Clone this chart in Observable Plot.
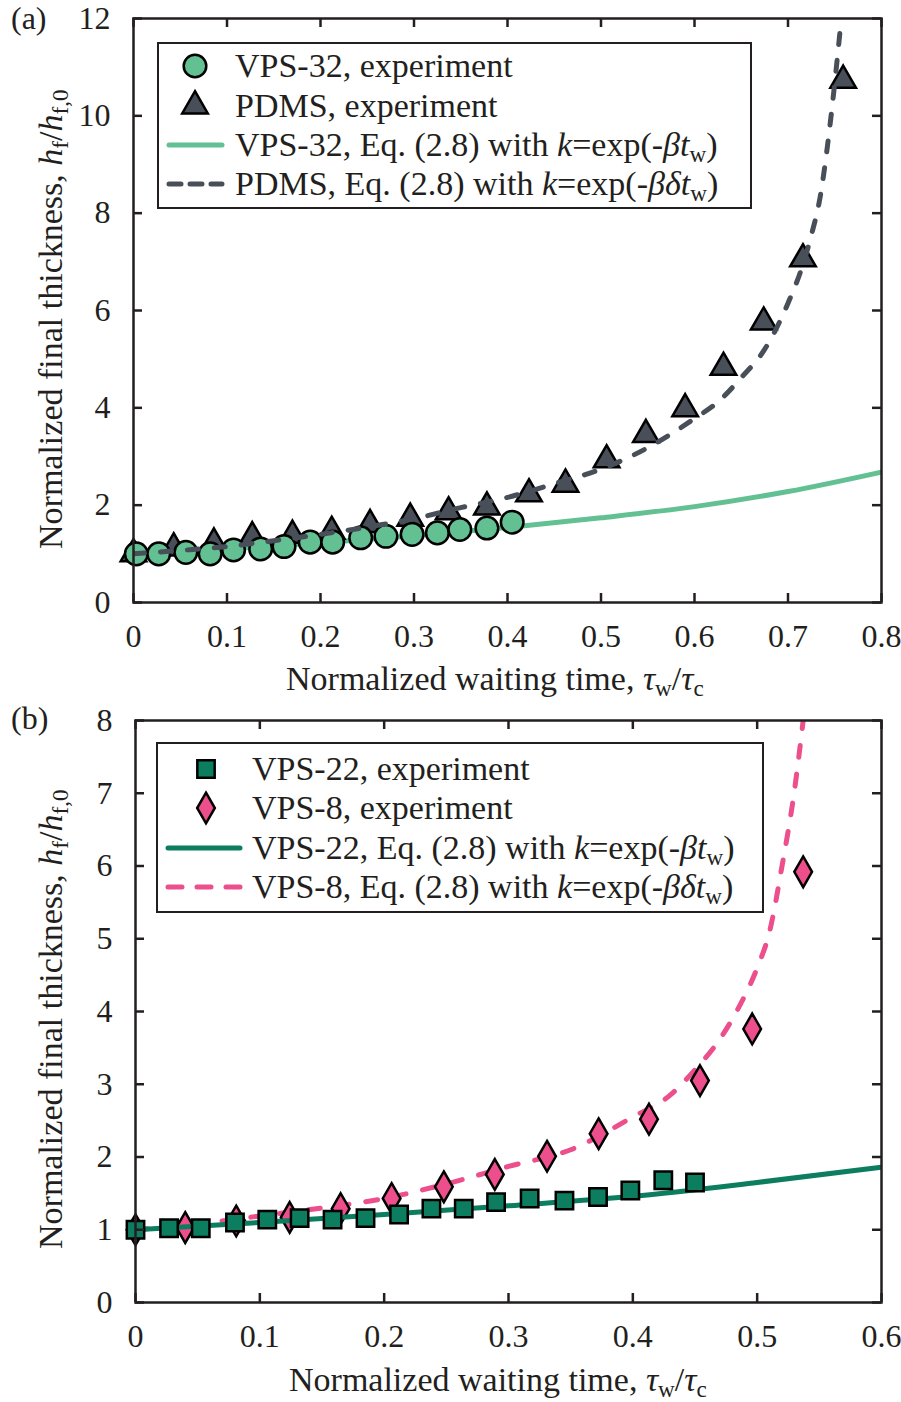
<!DOCTYPE html>
<html>
<head>
<meta charset="utf-8">
<script src="https://cdn.jsdelivr.net/npm/d3@7"></script>
<script src="https://cdn.jsdelivr.net/npm/@observablehq/plot@0.6"></script>
<style>
  html, body { margin: 0; padding: 0; background: #fff; }
  #root { position: relative; width: 901px; height: 1402px; overflow: hidden; background: #fff;
          font-family: "Liberation Serif", "Times New Roman", serif; color: #231f20; }
  .abs { position: absolute; white-space: nowrap; }
  .lbl { font-size: 34px; line-height: 34px; }
  .sub { font-size: 0.68em; position: relative; top: 0.28em; font-style: normal; }
  .legend { position: absolute; box-sizing: border-box; border: 2.5px solid #231f20; background: #fff; }
  .row { position: absolute; font-size: 34px; line-height: 40px; height: 40px; white-space: nowrap; }
</style>
</head>
<body>
<div id="root"></div>
<script>
// ---------------- data: panel (a) ----------------
const xTicksA = [0, 0.1, 0.2, 0.3, 0.4, 0.5, 0.6, 0.7, 0.8];
const yTicksA = [0, 2, 4, 6, 8, 10, 12];

const vps32X = [0.003, 0.027, 0.056, 0.082, 0.107, 0.136, 0.161, 0.189, 0.213, 0.243, 0.270, 0.298, 0.325, 0.349, 0.378, 0.405];
const vps32Y = [1.00, 1.00, 1.03, 1.00, 1.08, 1.10, 1.15, 1.24, 1.24, 1.33, 1.36, 1.40, 1.43, 1.50, 1.53, 1.65];

const pdmsX = [0, 0.043, 0.086, 0.127, 0.170, 0.212, 0.253, 0.296, 0.337, 0.378, 0.423, 0.462, 0.506, 0.548, 0.590, 0.631, 0.674, 0.716, 0.759];
const pdmsY = [1.00, 1.12, 1.22, 1.35, 1.38, 1.46, 1.60, 1.73, 1.86, 1.96, 2.23, 2.43, 2.93, 3.45, 3.98, 4.83, 5.76, 7.06, 10.73];

const vps32FitX = [0, 0.1, 0.2, 0.3, 0.4, 0.5, 0.6, 0.7, 0.8];
const vps32FitY = [1.00, 1.10, 1.23, 1.37, 1.54, 1.74, 1.97, 2.28, 2.68];

const pdmsFitX = [0, 0.05, 0.1, 0.15, 0.2, 0.25, 0.3, 0.35, 0.4, 0.45, 0.5, 0.55, 0.6, 0.625, 0.65, 0.675, 0.7, 0.715, 0.725, 0.735, 0.742, 0.749, 0.757];
const pdmsFitY = [1.00, 1.07, 1.15, 1.27, 1.40, 1.55, 1.72, 1.95, 2.16, 2.44, 2.74, 3.18, 3.78, 4.12, 4.62, 5.20, 6.15, 6.89, 7.55, 8.40, 9.35, 10.5, 12.0];

// ---------------- data: panel (b) ----------------
const xTicksB = [0, 0.1, 0.2, 0.3, 0.4, 0.5, 0.6];
const yTicksB = [0, 1, 2, 3, 4, 5, 6, 7, 8];

const vps22X = [0, 0.027, 0.0525, 0.080, 0.106, 0.132, 0.1585, 0.185, 0.212, 0.238, 0.264, 0.290, 0.317, 0.345, 0.372, 0.398, 0.4245, 0.450];
const vps22Y = [1.00, 1.02, 1.02, 1.10, 1.14, 1.16, 1.14, 1.16, 1.21, 1.29, 1.29, 1.38, 1.43, 1.40, 1.45, 1.54, 1.68, 1.65];

const vps8X = [0, 0.040, 0.081, 0.124, 0.165, 0.206, 0.248, 0.289, 0.331, 0.3725, 0.413, 0.454, 0.496, 0.537];
const vps8Y = [1.00, 1.03, 1.12, 1.17, 1.29, 1.43, 1.59, 1.76, 2.01, 2.32, 2.52, 3.05, 3.76, 5.92];

const vps22FitX = [0, 0.1, 0.2, 0.3, 0.4, 0.5, 0.6];
const vps22FitY = [1.00, 1.10, 1.21, 1.33, 1.46, 1.65, 1.86];

const vps8FitX = [0, 0.05, 0.1, 0.15, 0.2, 0.25, 0.3, 0.35, 0.4, 0.43, 0.45, 0.47, 0.485, 0.5, 0.51, 0.52, 0.53, 0.537];
const vps8FitY = [1.00, 1.08, 1.19, 1.30, 1.43, 1.63, 1.87, 2.10, 2.55, 2.85, 3.20, 3.62, 4.05, 4.60, 5.10, 6.00, 7.04, 8.00];

// ---------------- styles ----------------
const ink = "#231f20";
const lightGreen = "#62c093";
const slate = "#484f59";
const darkGreen = "#0d7d60";
const pink = "#ec4f8c";
const FONT = '"Liberation Serif", "Times New Roman", serif';
const dashA = "11,16";
const dashB = "12,17";

const zip = (xs, ys) => xs.map((x, i) => ({x, y: ys[i]}));

function innerTicks(xt, yt, h, w) {
  const tk = 9, sw = 2.5;
  return [
    Plot.tickX(xt, {x: d => d, insetTop: h - tk, stroke: ink, strokeWidth: sw}),
    Plot.tickX(xt, {x: d => d, insetBottom: h - tk, stroke: ink, strokeWidth: sw}),
    Plot.tickY(yt, {y: d => d, insetRight: w - tk, stroke: ink, strokeWidth: sw}),
    Plot.tickY(yt, {y: d => d, insetLeft: w - tk, stroke: ink, strokeWidth: sw}),
    Plot.frame({stroke: ink, strokeWidth: 2.5})
  ];
}

const root = document.getElementById("root");

// ---------------- panel (a) ----------------
{
  const W = 901, H = 700, mL = 133, mR = 20, mT = 18, mB = 98;
  const chart = Plot.plot({
    width: W, height: H, marginLeft: mL, marginRight: mR, marginTop: mT, marginBottom: mB,
    style: {fontFamily: FONT, fontSize: "32px", color: ink, background: "transparent", overflow: "visible"},
    x: {domain: [0, 0.8], ticks: xTicksA, tickSize: 0, tickPadding: 22, label: null, tickFormat: d => String(d)},
    y: {domain: [0, 12], ticks: yTicksA, tickSize: 0, tickPadding: 23, label: null, tickFormat: d => String(d)},
    marks: [
      Plot.line(zip(vps32FitX, vps32FitY), {x: "x", y: "y", stroke: lightGreen, strokeWidth: 5, curve: "monotone-x", clip: true}),
      Plot.dot(zip(pdmsX, pdmsY), {x: "x", y: "y", symbol: "triangle", r: 9.5, fill: slate, stroke: "#000", strokeWidth: 2.5}),
      Plot.dot(zip(vps32X, vps32Y), {x: "x", y: "y", symbol: "circle", r: 11.3, fill: lightGreen, stroke: "#000", strokeWidth: 2.5}),
      Plot.line(zip(pdmsFitX, pdmsFitY), {x: "x", y: "y", stroke: slate, strokeWidth: 5, strokeDasharray: dashA, strokeLinecap: "round", curve: "monotone-x", clip: true}),
      ...innerTicks(xTicksA, yTicksA, H - mT - mB, W - mL - mR)
    ]
  });
  chart.style.position = "absolute";
  chart.style.left = "0px";
  chart.style.top = "0px";
  root.appendChild(chart);
}

// ---------------- panel (b) ----------------
{
  const W = 901, H = 702, mL = 135, mR = 20, mT = 20, mB = 100;
  const chart = Plot.plot({
    width: W, height: H, marginLeft: mL, marginRight: mR, marginTop: mT, marginBottom: mB,
    style: {fontFamily: FONT, fontSize: "32px", color: ink, background: "transparent", overflow: "visible"},
    x: {domain: [0, 0.6], ticks: xTicksB, tickSize: 0, tickPadding: 22, label: null, tickFormat: d => String(d)},
    y: {domain: [0, 8], ticks: yTicksB, tickSize: 0, tickPadding: 23, label: null, tickFormat: d => String(d)},
    marks: [
      Plot.line(zip(vps8FitX, vps8FitY), {x: "x", y: "y", stroke: pink, strokeWidth: 5, strokeDasharray: dashB, strokeLinecap: "round", curve: "monotone-x", clip: true}),
      Plot.dot(zip(vps8X, vps8Y), {x: "x", y: "y", symbol: "diamond", r: 9.3, fill: pink, stroke: "#000", strokeWidth: 2.5}),
      Plot.line(zip(vps22FitX, vps22FitY), {x: "x", y: "y", stroke: darkGreen, strokeWidth: 5, curve: "monotone-x", clip: true}),
      Plot.dot(zip(vps22X, vps22Y), {x: "x", y: "y", symbol: "square", r: 9.8, fill: darkGreen, stroke: "#000", strokeWidth: 2.5}),
      ...innerTicks(xTicksB, yTicksB, H - mT - mB, W - mL - mR)
    ]
  });
  chart.style.position = "absolute";
  chart.style.left = "0px";
  chart.style.top = "700px";
  root.appendChild(chart);
}

// ---------------- text overlays ----------------
function addText(html, left, top, cls, extraStyle) {
  const d = document.createElement("div");
  d.className = "abs " + (cls || "");
  d.innerHTML = html;
  d.style.left = left + "px";
  d.style.top = top + "px";
  if (extraStyle) Object.assign(d.style, extraStyle);
  root.appendChild(d);
  return d;
}
const yLabel = 'Normalized final thickness, <i>h</i><span class="sub">f</span>/<i>h</i><span class="sub">f,0</span>';
const xLabel = 'Normalized waiting time, <i>τ</i><span class="sub">w</span>/<i>τ</i><span class="sub">c</span>';

// panel letters
addText("(a)", 11, 2, "", {fontSize: "32px", lineHeight: "32px"});
addText("(b)", 11, 702, "", {fontSize: "32px", lineHeight: "32px"});

// x labels
addText(xLabel, 286, 662, "lbl");
addText(xLabel, 289, 1363, "lbl");

// y labels, rotated about top-left corner
addText(yLabel, 34, 549, "lbl", {transformOrigin: "0 0", transform: "rotate(-90deg)"});
addText(yLabel, 34, 1249, "lbl", {transformOrigin: "0 0", transform: "rotate(-90deg)"});

// ---------------- legends ----------------
function symbolSvg(type, r, fill) {
  const s = 40;
  const path = d3.symbol().type(type).size(Math.PI * r * r)();
  return `<svg width="${s}" height="${s}" style="position:absolute;left:${-s/2}px;top:${-s/2}px;overflow:visible">
    <path d="${path}" transform="translate(${s/2},${s/2})" fill="${fill}" stroke="#000" stroke-width="2.5"/></svg>`;
}
function lineSvg(x1, x2, color, dash) {
  const w = x2 - x1 + 10;
  return `<svg width="${w}" height="20" style="position:absolute;left:${x1 - 5}px;top:-10px;overflow:visible">
    <line x1="5" x2="${w - 5}" y1="10" y2="10" stroke="${color}" stroke-width="5" stroke-linecap="round" ${dash ? `stroke-dasharray="${dash}"` : ""}/></svg>`;
}
function makeLegend(box, rows, symX, lineX1, lineX2, textX) {
  const lg = document.createElement("div");
  lg.className = "legend";
  Object.assign(lg.style, {left: box[0] + "px", top: box[1] + "px", width: box[2] + "px", height: box[3] + "px"});
  rows.forEach(r => {
    const holder = document.createElement("div");
    holder.style.position = "absolute";
    holder.style.top = r.cy + "px";
    holder.style.left = "0px";
    if (r.kind === "symbol") {
      holder.innerHTML = `<div style="position:absolute;left:${symX}px;top:0">${symbolSvg(r.type, r.r, r.fill)}</div>`;
    } else {
      holder.innerHTML = lineSvg(lineX1, lineX2, r.color, r.dash);
    }
    lg.appendChild(holder);
    const t = document.createElement("div");
    t.className = "row";
    t.style.left = textX + "px";
    t.style.top = (r.cy - 20) + "px";
    t.innerHTML = r.html;
    lg.appendChild(t);
  });
  root.appendChild(lg);
}

const sub = s => `<span class="sub">${s}</span>`;
makeLegend([157, 42, 595, 167], [
  {kind: "symbol", type: d3.symbolCircle, r: 11.3, fill: lightGreen, cy: 22, html: "VPS-32, experiment"},
  {kind: "symbol", type: d3.symbolTriangle, r: 9.5, fill: slate, cy: 62, html: "PDMS, experiment"},
  {kind: "line", color: lightGreen, cy: 101, html: `VPS-32, Eq. (2.8) with <i>k</i>=exp(-<i>βt</i>${sub("w")})`},
  {kind: "line", color: slate, dash: "12,9", cy: 140, html: `PDMS, Eq. (2.8) with <i>k</i>=exp(-<i>βδt</i>${sub("w")})`}
], 36, 10, 63, 76);

makeLegend([156, 742, 608, 171], [
  {kind: "symbol", type: d3.symbolSquare, r: 9.8, fill: darkGreen, cy: 25, html: "VPS-22, experiment"},
  {kind: "symbol", type: d3.symbolDiamond, r: 9.3, fill: pink, cy: 64, html: "VPS-8, experiment"},
  {kind: "line", color: darkGreen, cy: 104, html: `VPS-22, Eq. (2.8) with <i>k</i>=exp(-<i>βt</i>${sub("w")})`},
  {kind: "line", color: pink, dash: "14,15", cy: 143, html: `VPS-8, Eq. (2.8) with <i>k</i>=exp(-<i>βδt</i>${sub("w")})`}
], 48, 10, 82, 94);
</script>
</body>
</html>
